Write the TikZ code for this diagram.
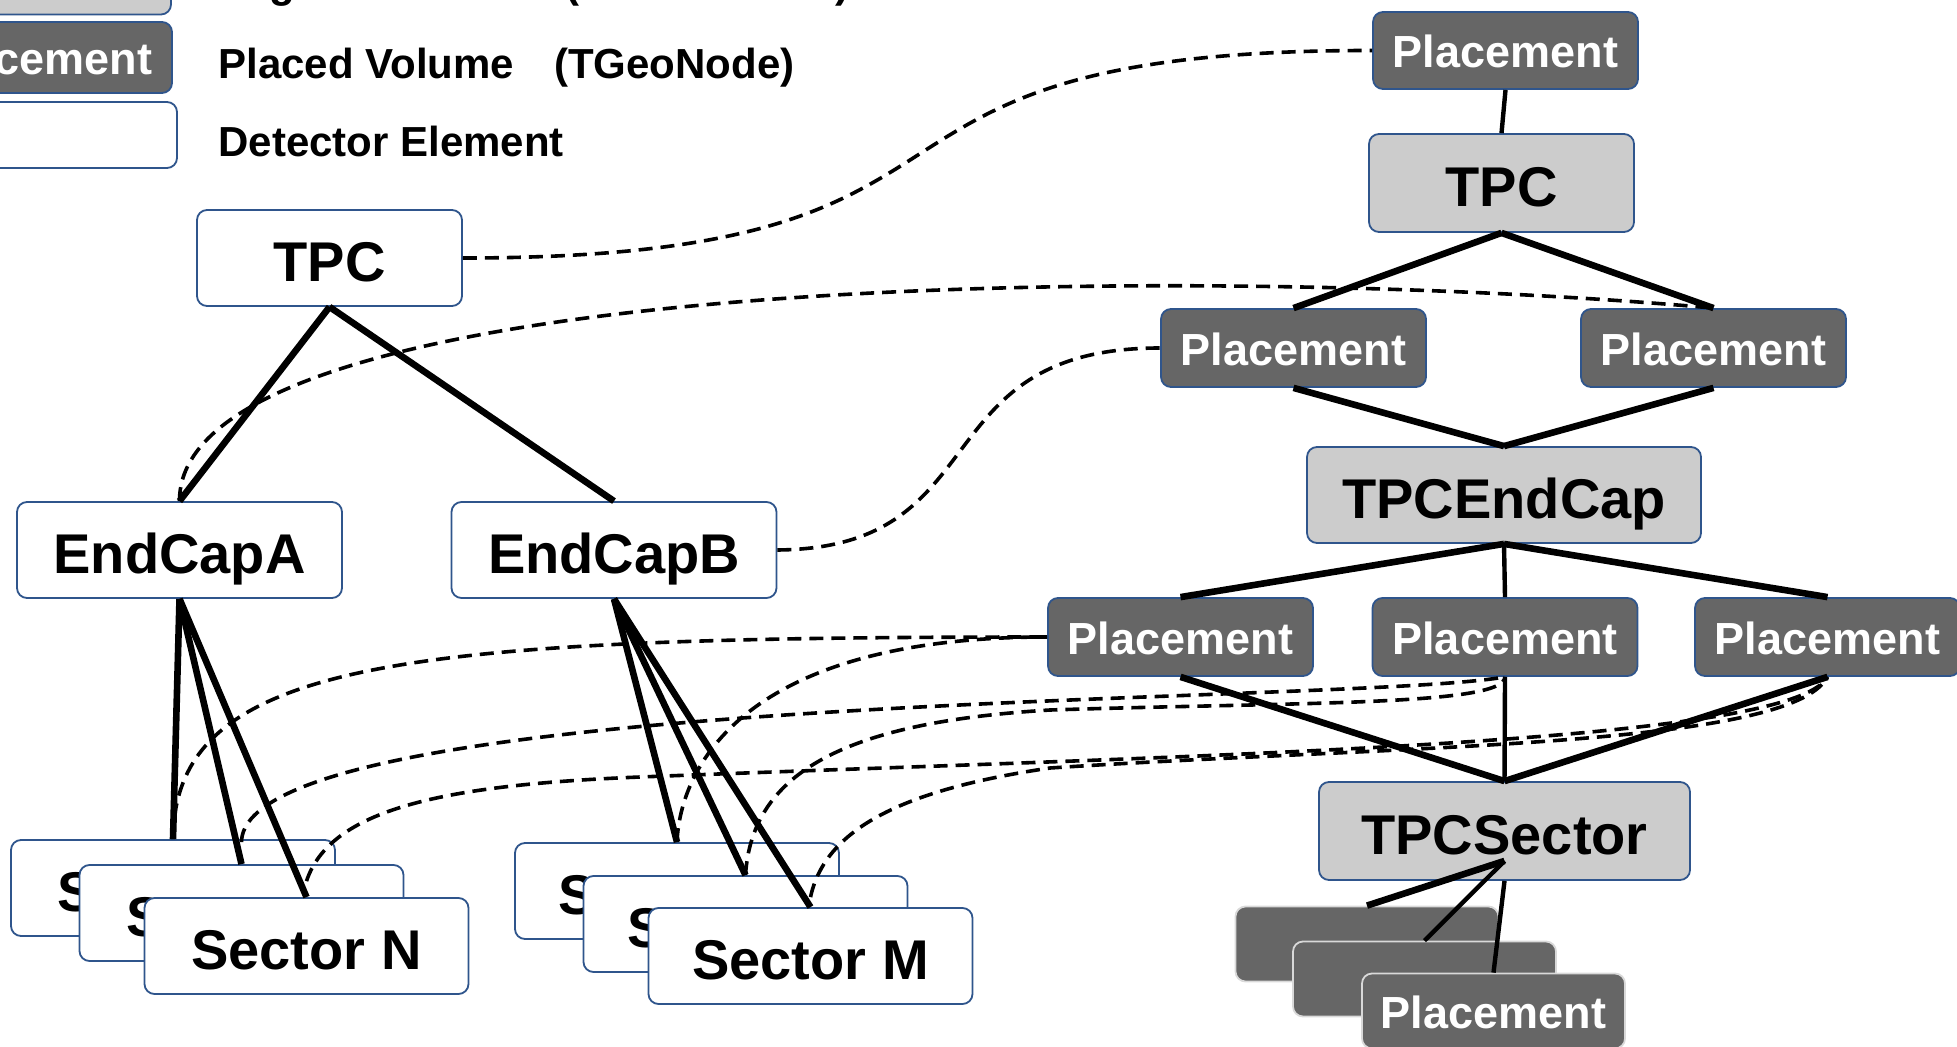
\documentclass[tikz,border=0pt]{standalone}
\usepackage{fontspec}
\setmainfont{Liberation Sans}
\usepackage{tikz}
\usetikzlibrary{shapes,arrows}
\definecolor{edgeblue}{RGB}{47,85,140}
\definecolor{darkfill}{RGB}{102,102,102}
\definecolor{lightfill}{RGB}{204,204,204}
\tikzstyle{element} = [rectangle, draw=edgeblue, line width=0.9pt, fill=white, rounded corners=5pt, minimum width=162pt, minimum height=48pt, inner sep=0pt, text height=23.5pt, text depth=0pt, font=\fontsize{28}{30}\selectfont\bfseries]
\tikzstyle{volume} = [element, fill=lightfill]
\tikzstyle{placement} = [rectangle, draw=edgeblue, line width=0.9pt, fill=darkfill, text=white, rounded corners=5pt, minimum width=132.5pt, minimum height=39pt, inner sep=0pt, text height=17.5pt, text depth=0pt, font=\fontsize{22.5}{24}\selectfont\bfseries]
\tikzstyle{ghost} = [placement, draw=white!85!black]
\tikzstyle{link} = [draw, line width=3.3pt]
\tikzstyle{thinlink} = [draw, line width=2.2pt]
\tikzstyle{mapline} = [draw, line width=1.8pt, dash pattern=on 7pt off 4pt]
\tikzstyle{legend} = [anchor=base west, inner sep=0pt, font=\fontsize{21}{23}\selectfont\bfseries]

\begin{document}
\begin{tikzpicture}[x=0.5pt, y=-0.5pt]
    \useasboundingbox (0,0) rectangle (1957,1047);
    \clip (0,0) rectangle (1957,1047);

    % legend
    \node [volume, minimum width=132.5pt, minimum height=35pt] (lg_vol) at (38.5,-20.5) {};
    \node [placement, minimum height=35.5pt] (lg_pl) at (39.5,57.5) {Placement};
    \node [element, minimum width=132.5pt, minimum height=33pt] (lg_de) at (44.5,135) {};
    \node [legend] (lg_vol_txt) at (218,-2) {Logical Volume\hspace{20pt}(TGeoVolume)};
    \node [legend] (lg_pl_txt) at (218,79) {Placed Volume\hspace{20pt}(TGeoNode)};
    \node [legend] (lg_de_txt) at (218,157) {Detector Element};

    % detector elements
    \node [element, minimum width=132.5pt] (tpc_de) at (329.5,258) {TPC};
    \node [element, minimum width=162.5pt] (endcap_a) at (179.5,550) {EndCapA};
    \node [element, minimum width=162.5pt] (endcap_b) at (614,550) {EndCapB};
    \node [element] (sec_a1) at (173,888) {Sector N};
    \node [element] (sec_a2) at (241.5,913) {Sector N};
    \node [element] (sec_a3) at (306.5,946) {Sector N};
    \node [element] (sec_b1) at (677,891) {Sector M};
    \node [element] (sec_b2) at (745.5,924) {Sector M};
    \node [element] (sec_b3) at (810.5,956) {Sector M};

    % geometry
    \node [placement, minimum height=38.5pt] (pl_top) at (1505.5,50.5) {Placement};
    \node [volume, minimum width=132.5pt, minimum height=49pt] (tpc_vol) at (1501.5,183) {TPC};
    \node [placement] (pl_l2a) at (1293.5,348) {Placement};
    \node [placement] (pl_l2b) at (1713.5,348) {Placement};
    \node [volume, minimum width=197pt] (endcap_vol) at (1504,495) {TPCEndCap};
    \node [placement] (pl_l4a) at (1180.5,637) {Placement};
    \node [placement] (pl_l4b) at (1505,637) {Placement};
    \node [placement] (pl_l4c) at (1827.5,637) {Placement};
    \node [volume, minimum width=185.5pt, minimum height=49pt] (sector_vol) at (1504.5,831) {TPCSector};
    \node [ghost, minimum width=131.5pt, minimum height=37.5pt] (pl_s1) at (1367,944) {};
    \node [ghost, minimum width=131.5pt, minimum height=37.5pt] (pl_s2) at (1424.5,979) {};
    \node [ghost, minimum width=131.5pt, minimum height=37.5pt] (pl_s3) at (1493.5,1011) {Placement};

    \path [link] (tpc_de.south) -- (endcap_a.north);
    \path [link] (tpc_de.south) -- (endcap_b.north);
    \path [link] (endcap_a.south) -- (sec_a1.north);
    \path [link] (endcap_a.south) -- (sec_a2.north);
    \path [link] (endcap_a.south) -- (sec_a3.north);
    \path [link] (endcap_b.south) -- (sec_b1.north);
    \path [link] (endcap_b.south) -- (sec_b2.north);
    \path [link] (endcap_b.south) -- (sec_b3.north);

    \path [thinlink] (pl_top.south) -- (tpc_vol.north);
    \path [link] (tpc_vol.south) -- (pl_l2a.north);
    \path [link] (tpc_vol.south) -- (pl_l2b.north);
    \path [link] (pl_l2a.south) -- (endcap_vol.north);
    \path [link] (pl_l2b.south) -- (endcap_vol.north);
    \path [link] (endcap_vol.south) -- (pl_l4a.north);
    \path [thinlink] (endcap_vol.south) -- (pl_l4b.north);
    \path [link] (endcap_vol.south) -- (pl_l4c.north);
    \path [link] (pl_l4a.south) -- (sector_vol.north);
    \path [thinlink] (pl_l4b.south) -- (sector_vol.north);
    \path [link] (pl_l4c.south) -- (sector_vol.north);
    \path [link] ([yshift=10pt]sector_vol.south) -- (pl_s1.north);
    \path [thinlink] ([yshift=10pt]sector_vol.south) -- (pl_s2.north);
    \path [thinlink] (sector_vol.south) -- (pl_s3.north);

    % element -> placement
    \path [mapline] (tpc_de.east) .. controls (1050,258) and (790,50) .. (pl_top.west);
    \path [mapline] (endcap_a.north) .. controls (178,270) and (1200,262) .. (pl_l2b.north);
    \path [mapline] (endcap_b.east) .. controls (1000,548) and (920,348) .. (pl_l2a.west);
    \path [mapline] (sec_a1.north) .. controls (175,660) and (400,637) .. (pl_l4a.west);
    \path [mapline] (sec_b1.north) .. controls (680,770) and (740,637) .. (pl_l4a.west);
    \path [mapline] ([yshift=11pt]sec_a2.north) .. controls (243,690) and (1350,705) .. (pl_l4b.south);
    \path [mapline] (sec_b2.north) .. controls (752,770) and (850,722) .. (1050,710)
        .. controls (1300,702) and (1504,706) .. (pl_l4b.south);
    \path [mapline] ([yshift=8pt]sec_a3.north) .. controls (330,810) and (440,785) .. (640,777)
        .. controls (1200,755) and (1790,745) .. (pl_l4c.south);
    \path [mapline] ([yshift=5pt]sec_b3.north) .. controls (825,830) and (900,790) .. (1050,768)
        .. controls (1400,745) and (1790,748) .. (pl_l4c.south);
\end{tikzpicture}
\end{document}
